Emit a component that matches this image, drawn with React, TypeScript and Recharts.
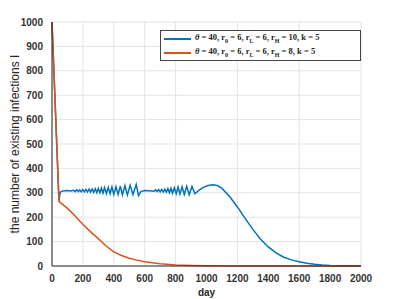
import React from 'react';
import { CartesianGrid, Label, Line, LineChart, XAxis, YAxis } from 'recharts';

// run with r_H = 10 (blue)
const blueDays = [
  0, 45, 52, 60, 80, 100, 120, 140,
  150, 160, 170, 180, 190, 200, 210, 220, 230, 240, 250, 260, 270, 280, 290, 300,
  310, 320, 330, 340, 352, 364, 376, 388, 400, 414, 428, 442, 456, 472, 488, 506,
  524, 545, 560, 575, 600, 630, 660,
  670, 680, 690, 700, 710, 720, 730, 740, 750, 760, 770, 780, 792, 804, 816, 828,
  842, 856, 872, 888, 906, 925,
  950, 980, 1010, 1040, 1070, 1100, 1150, 1200, 1250, 1300, 1350, 1400, 1450, 1500,
  1550, 1600, 1650, 1700, 1750, 1800, 1850, 1900, 2000,
];
const blueValues = [
  1000, 268, 300, 306, 308, 309, 307, 310,
  305, 313, 305, 312, 304, 313, 304, 314, 303, 315, 303, 316, 302, 317, 301, 318,
  300, 319, 299, 321, 297, 322, 296, 324, 294, 325, 293, 327, 292, 329, 291, 331,
  293, 334, 288, 305, 309, 308, 306,
  312, 305, 313, 304, 314, 303, 315, 302, 317, 300, 319, 298, 321, 296, 323, 295,
  325, 293, 327, 292, 326, 296,
  310, 322, 330, 333, 330, 318, 285, 242, 195, 150, 110, 78, 54, 36,
  25, 17, 11, 7, 4, 2, 1, 1, 0,
];

// run with r_H = 8 (orange)
const orangeDays = [0, 45, 100, 150, 200, 250, 300, 350, 400, 450, 500, 550, 600, 700, 800, 900, 1000, 1200, 1500, 2000];
const orangeValues = [1000, 265, 236, 205, 170, 140, 112, 82, 58, 43, 32, 24, 17, 9, 4, 2, 1, 0, 0, 0];

const xTicks = [0, 200, 400, 600, 800, 1000, 1200, 1400, 1600, 1800, 2000];
const yTicks = [0, 100, 200, 300, 400, 500, 600, 700, 800, 900, 1000];

const blueData = blueDays.map((d, i) => ({ day: d, I: blueValues[i] }));
const orangeData = orangeDays.map((d, i) => ({ day: d, I: orangeValues[i] }));

const BLUE = '#0072BD';
const ORANGE = '#D95319';
const AXIS = '#262626';
const tickStyle = { fontSize: 10, fontWeight: 700, fill: '#333', fontFamily: 'Liberation Sans, Arial, sans-serif' };

const legendRows = [
  { color: BLUE, rH: '10' },
  { color: ORANGE, rH: '8' },
];

// legend box drawn over the plot, top right like the matlab figure
const MyLegend = () => (
  <div
    style={{
      position: 'absolute',
      left: 160,
      top: 30,
      width: 201,
      boxSizing: 'border-box',
      border: '1px solid #444',
      background: '#fff',
      padding: '1px 3px',
      fontFamily: 'Liberation Serif, DejaVu Serif, serif',
      fontSize: 8.5,
      fontWeight: 700,
      color: '#222',
      lineHeight: '10px',
    }}
  >
    {legendRows.map((r) => (
      <div key={r.rH} style={{ display: 'flex', alignItems: 'center', whiteSpace: 'nowrap' }}>
        <span style={{ display: 'inline-block', width: 27, height: 2, background: r.color, marginRight: 4 }} />
        <span>
          <i>θ</i> = 40, r<sub style={{ fontSize: 6 }}>0</sub> = 6, r<sub style={{ fontSize: 6 }}>L</sub> = 6, r
          <sub style={{ fontSize: 6 }}>H</sub> = {r.rH}, k = 5
        </span>
      </div>
    ))}
  </div>
);

export default function App() {
  return (
    <div style={{ position: 'absolute', left: 0, top: 0, width: 399, height: 299, background: '#fff' }}>
      <LineChart width={399} height={299} margin={{ top: 22, right: 38, left: 12, bottom: 13 }}>
        <CartesianGrid xAxisId="b" yAxisId="l" stroke="#e3e3e3" strokeWidth={1} />
        <XAxis
          xAxisId="b"
          dataKey="day"
          type="number"
          domain={[0, 2000]}
          ticks={xTicks}
          allowDuplicatedCategory={false}
          tick={tickStyle}
          tickLine={false}
          axisLine={{ stroke: AXIS }}
          height={20}
          tickMargin={3}
        >
          <Label value="day" position="insideBottom" offset={-10} style={{ ...tickStyle, fill: '#262626' }} />
        </XAxis>
        <XAxis
          xAxisId="t"
          orientation="top"
          type="number"
          domain={[0, 2000]}
          ticks={xTicks}
          tick={false}
          tickLine={{ stroke: AXIS }}
          tickSize={-3}
          axisLine={{ stroke: AXIS }}
          height={0}
        />
        <YAxis
          yAxisId="l"
          type="number"
          domain={[0, 1000]}
          ticks={yTicks}
          tick={tickStyle}
          tickLine={false}
          axisLine={{ stroke: AXIS }}
          width={40}
          tickMargin={3}
        >
          <Label
            value="the number of existing infections  I"
            angle={-90}
            position="insideLeft"
            offset={3}
            textAnchor="middle"
            style={{ fontSize: 12, fontFamily: 'Liberation Sans, Arial, sans-serif', fill: '#262626', textAnchor: 'middle' }}
          />
        </YAxis>
        <YAxis
          yAxisId="r"
          orientation="right"
          type="number"
          domain={[0, 1000]}
          ticks={yTicks}
          tick={false}
          tickLine={{ stroke: AXIS }}
          tickSize={-3}
          axisLine={{ stroke: AXIS }}
          width={0}
        />
        <Line
          data={blueData}
          xAxisId="b"
          yAxisId="l"
          dataKey="I"
          name="blue"
          stroke={BLUE}
          strokeWidth={1.5}
          dot={false}
          isAnimationActive={false}
        />
        <Line
          data={orangeData}
          xAxisId="b"
          yAxisId="l"
          dataKey="I"
          name="orange"
          stroke={ORANGE}
          strokeWidth={1.5}
          dot={false}
          isAnimationActive={false}
        />
      </LineChart>
      <MyLegend />
    </div>
  );
}
